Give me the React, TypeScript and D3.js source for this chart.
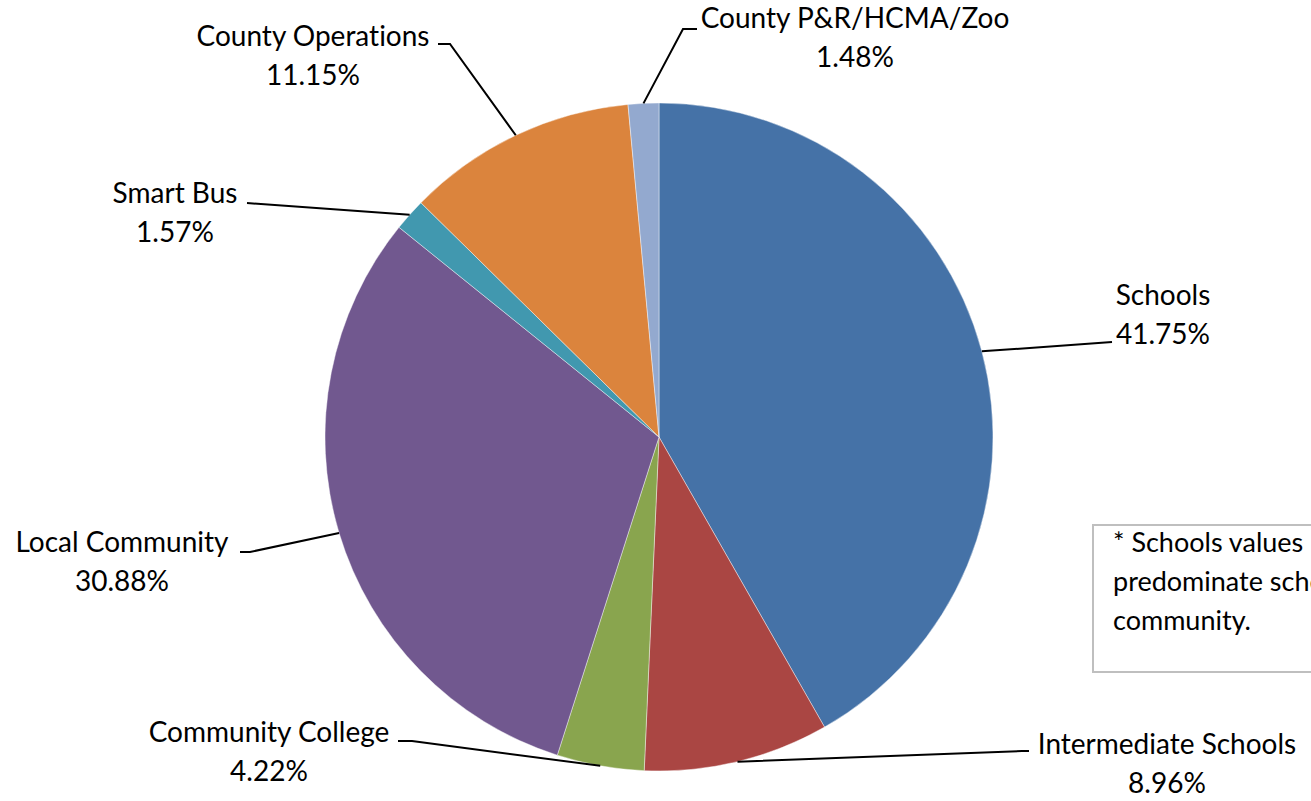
import React from "react";
import * as d3 from "d3";

const categories = [
  "Schools",
  "Intermediate Schools",
  "Community College",
  "Local Community",
  "Smart Bus",
  "County Operations",
  "County P&R/HCMA/Zoo",
];
const values = [41.75, 8.96, 4.22, 30.88, 1.57, 11.15, 1.48];
const colors = ["#4572A7", "#AA4643", "#89A54E", "#71588F", "#4198AF", "#DB843D", "#93A9CF"];
const noteLines = [
  "* Schools values reflect the",
  "predominate school district in the",
  "community.",
];

// label layout: text centre x, first baseline y, leader end point, optional elbow
const labelLayout = [
  { tx: 1163, ty: 305, end: [1112, 342], elbow: null },
  { tx: 1167, ty: 754, end: [1029, 751], elbow: [1022, 751] },
  { tx: 269, ty: 742, end: [398, 741], elbow: [412, 741] },
  { tx: 122, ty: 552, end: [240, 552], elbow: [250, 552] },
  { tx: 175, ty: 203, end: [247, 203], elbow: null },
  { tx: 313, ty: 46, end: [438, 44], elbow: [450, 44] },
  { tx: 855, ty: 28, end: [697, 29], elbow: [683, 29] },
];

const W = 1311;
const H = 801;
const cx = 659;
const cy = 437;
const R = 334;
const FONT = "Lato, 'Open Sans', sans-serif";
const FS = 28;
const LINE = 38.5;

export default function App() {
  const pie = d3.pie<number>().sort(null).value((d) => d).startAngle(0).endAngle(2 * Math.PI);
  const arcs = pie(values);
  const arcGen = d3.arc<d3.PieArcDatum<number>>().innerRadius(0).outerRadius(R);
  const edgeGen = d3.arc<d3.PieArcDatum<number>>().innerRadius(R).outerRadius(R);
  const textStyle = { fontVariantLigatures: "none" as const };

  return (
    <svg
      width={W}
      height={H}
      viewBox={`0 0 ${W} ${H}`}
      style={{ position: "absolute", left: 0, top: 0, background: "#fff" }}
    >
      <g transform={`translate(${cx},${cy})`}>
        {arcs.map((a, i) => (
          <path key={i} d={arcGen(a) || ""} fill={colors[i]} stroke="#ffffff" strokeWidth={0.6} strokeOpacity={0.7} />
        ))}
      </g>
      {arcs.map((a, i) => {
        const [px, py] = edgeGen.centroid(a);
        const L = labelLayout[i];
        const pts: number[][] = [[cx + px, cy + py]];
        if (L.elbow) pts.push(L.elbow);
        pts.push(L.end);
        const line = d3.line()(pts as [number, number][]);
        return (
          <g key={"l" + i}>
            <path d={line || ""} fill="none" stroke="#000" strokeWidth={2} />
            <text x={L.tx} y={L.ty} textAnchor="middle" fontFamily={FONT} fontSize={FS} fill="#000" style={textStyle}>
              {categories[i]}
            </text>
            <text x={L.tx} y={L.ty + LINE} textAnchor="middle" fontFamily={FONT} fontSize={FS} fill="#000" style={textStyle}>
              {values[i].toFixed(2) + "%"}
            </text>
          </g>
        );
      })}
      <rect x={1093} y={525} width={240} height={147} fill="#fff" stroke="#BFBFBF" strokeWidth={2} />
      {noteLines.map((t, i) => (
        <text key={"n" + i} x={1113} y={552 + i * 39} fontFamily={FONT} fontSize={27} fill="#000" style={textStyle}>
          {t}
        </text>
      ))}
    </svg>
  );
}
